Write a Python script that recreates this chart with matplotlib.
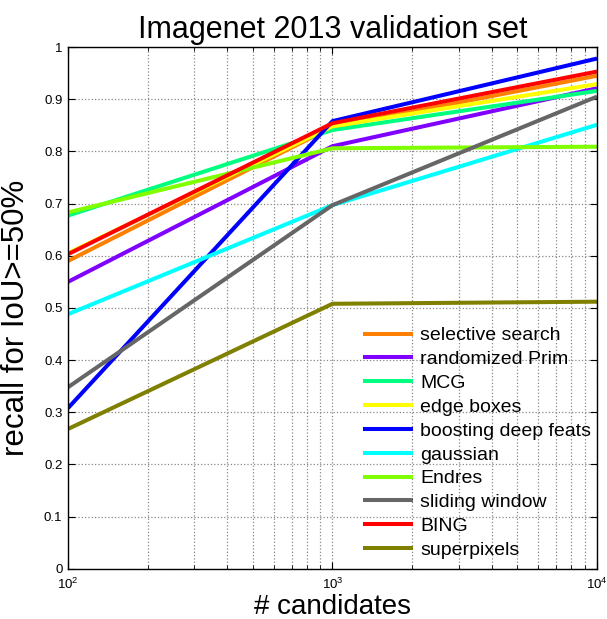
import matplotlib
matplotlib.use("Agg")
import matplotlib.pyplot as plt
from matplotlib.ticker import LogLocator, NullFormatter

plt.rcParams['font.family'] = ['Liberation Sans', 'DejaVu Sans']

candidates = [100, 1000, 10000]
methods = ["selective search", "randomized Prim", "MCG", "edge boxes",
           "boosting deep feats", "gaussian", "Endres", "sliding window",
           "BING", "superpixels"]
recall = {
    "selective search":    [0.590, 0.847, 0.945],
    "randomized Prim":     [0.550, 0.810, 0.921],
    "MCG":                 [0.677, 0.841, 0.916],
    "edge boxes":          [0.605, 0.848, 0.929],
    "boosting deep feats": [0.308, 0.858, 0.978],
    "gaussian":            [0.488, 0.697, 0.851],
    "Endres":              [0.683, 0.806, 0.809],
    "sliding window":      [0.348, 0.697, 0.905],
    "BING":                [0.603, 0.854, 0.953],
    "superpixels":         [0.268, 0.508, 0.512],
}
colors = {
    "selective search": "#FF8000",
    "randomized Prim": "#8000FF",
    "MCG": "#00FF80",
    "edge boxes": "#FFFF00",
    "boosting deep feats": "#0000FF",
    "gaussian": "#00FFFF",
    "Endres": "#80FF00",
    "sliding window": "#666666",
    "BING": "#FF0000",
    "superpixels": "#808000",
}
yticks = [0, 0.1, 0.2, 0.3, 0.4, 0.5, 0.6, 0.7, 0.8, 0.9, 1]
ytick_labels = ["0", "0.1", "0.2", "0.3", "0.4", "0.5", "0.6", "0.7", "0.8", "0.9", "1"]

fig = plt.figure(figsize=(6.07, 6.19), dpi=100)
ax = fig.add_axes([0.112, 0.081, 0.8715, 0.843])

for m in methods:
    ax.plot(candidates, recall[m], color=colors[m], lw=2.9, label=m, solid_capstyle='butt')

ax.set_xscale('log')
ax.set_xlim(100, 10000)
ax.set_ylim(0, 1)
ax.set_yticks(yticks)
ax.set_yticklabels(ytick_labels)
ax.xaxis.set_minor_locator(LogLocator(base=10, subs=range(2, 10)))
ax.xaxis.set_minor_formatter(NullFormatter())
ax.tick_params(direction='in', which='both', top=True, right=True, labelsize=9.5)
ax.tick_params(axis='x', which='major', pad=6)
ax.tick_params(axis='y', which='major', pad=4)
ax.tick_params(which='major', length=5)
ax.tick_params(which='minor', length=3)
ax.grid(True, which='major', linestyle=':', color='#888888', lw=0.9)
ax.grid(True, which='minor', axis='x', linestyle=':', color='#888888', lw=0.9)
for s in ax.spines.values():
    s.set_linewidth(1.0)

ax.set_title("Imagenet 2013 validation set", fontsize=22, pad=6.5)
ax.set_xlabel("# candidates", fontsize=20, labelpad=1)
ax.set_ylabel("recall for IoU>=50%", fontsize=22.5)
ax.yaxis.set_label_coords(-0.069, 0.481)

leg = ax.legend(loc='lower right', bbox_to_anchor=(1.0, 0.008), frameon=False,
                fontsize=14, handlelength=2.6, handletextpad=0.36,
                labelspacing=0.32, borderaxespad=0.0, borderpad=0.3)

fig.savefig("out.png", dpi=100)
